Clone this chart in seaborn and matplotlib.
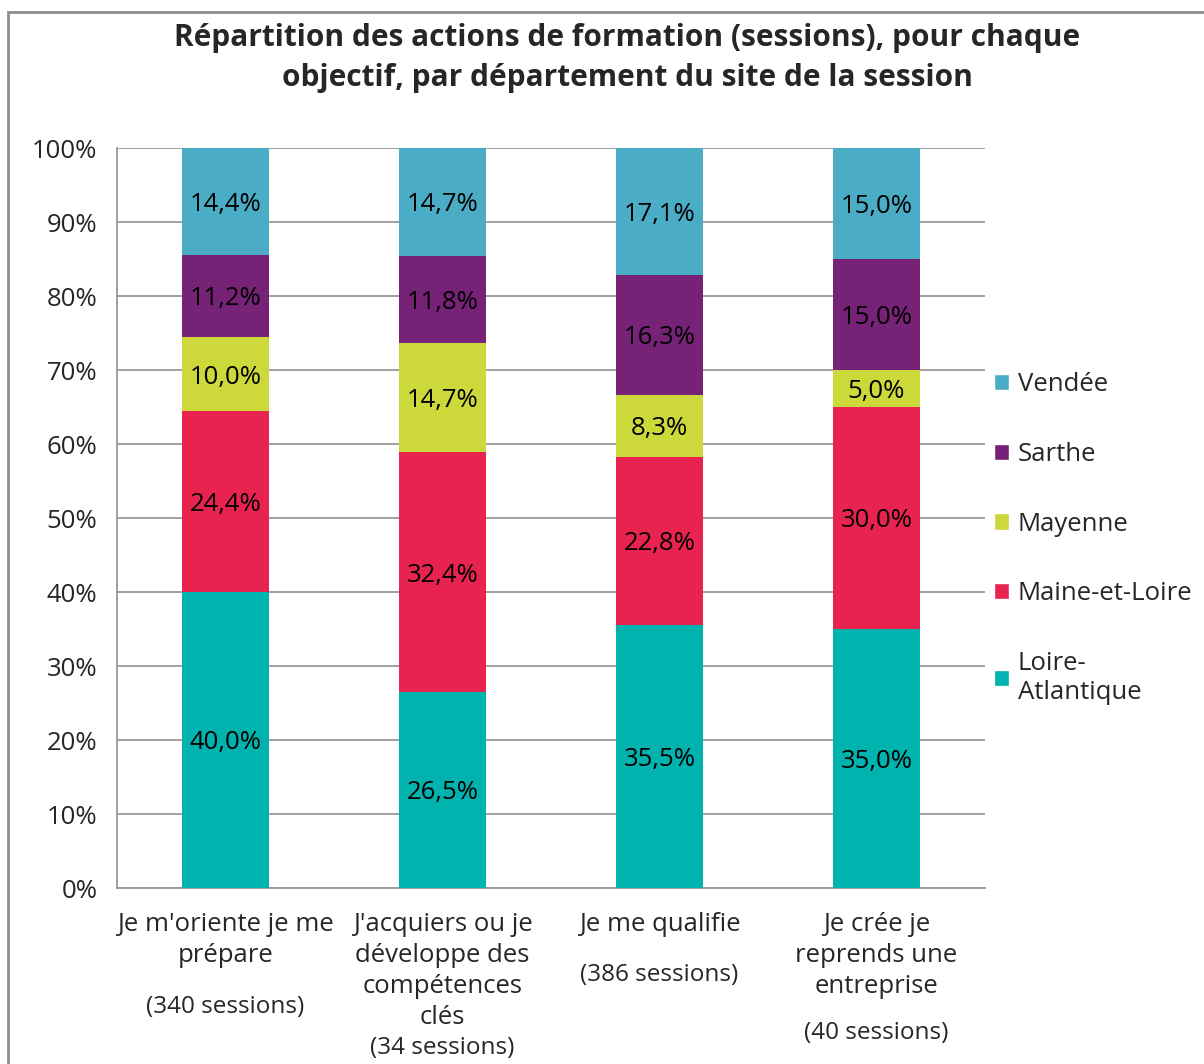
import matplotlib
matplotlib.use('Agg')
import matplotlib.pyplot as plt
from matplotlib.patches import Rectangle, Patch
import matplotlib.transforms as mtransforms
import seaborn as sns
import numpy as np

# categories (objectives) and session counts
objectifs = ["Je m'oriente je me\nprépare",
             "J'acquiers ou je\ndéveloppe des\ncompétences\nclés",
             "Je me qualifie",
             "Je crée je\nreprends une\nentreprise"]
sessions = ["(340 sessions)", "(34 sessions)", "(386 sessions)", "(40 sessions)"]

# share per department (%), bottom to top
loire_atlantique = [40.0, 26.5, 35.5, 35.0]
maine_et_loire = [24.4, 32.4, 22.8, 30.0]
mayenne = [10.0, 14.7, 8.3, 5.0]
sarthe = [11.2, 11.8, 16.3, 15.0]
vendee = [14.4, 14.7, 17.1, 15.0]

departements = ["Loire-\nAtlantique", "Maine-et-Loire", "Mayenne", "Sarthe", "Vendée"]
series = [loire_atlantique, maine_et_loire, mayenne, sarthe, vendee]
couleurs = ["#00B3AE", "#E8234F", "#CDD83A", "#762277", "#4BACC6"]

sns.set_style("white")
plt.rcParams['font.family'] = ['Open Sans', 'DejaVu Sans']

fig = plt.figure(figsize=(12.04, 10.64), dpi=100)
ax = fig.add_axes([117/1204, 1-888/1064, (985-117)/1204, (888-148)/1064])

# outer frame of the chart area
fig.patches.append(Rectangle((8/1204, -0.05), 1.2, 1-12/1064+0.05,
                             transform=fig.transFigure, fill=False,
                             edgecolor='#8c8c8c', linewidth=2, zorder=0))

x = np.arange(len(objectifs))
cumul = np.zeros(len(objectifs))
for vals, col in zip(series, couleurs):
    vals = np.array(vals)
    sns.barplot(x=x, y=vals, bottom=cumul, color=col, width=0.4,
                saturation=1, ax=ax, zorder=3, native_scale=True,
                linewidth=0, edgecolor='none')
    for xi, v, b in zip(x, vals, cumul):
        ax.text(xi, b + v/2, f"{v:.1f}%".replace('.', ','),
                ha='center', va='center_baseline', fontsize=18.5,
                color='black', zorder=4)
    cumul += vals

ax.set_xlim(-0.5, len(objectifs) - 0.5)
ax.set_ylim(0, 100)
ax.set_yticks(np.arange(0, 101, 10))
ax.set_yticklabels([f"{t}%" for t in range(0, 101, 10)], fontsize=18.5)
ax.yaxis.grid(True, color='#999999', linewidth=1.3, zorder=0)
ax.set_axisbelow(True)

# category labels centred, tick marks on the boundaries
ax.set_xticks(x)
ax.set_xticklabels(objectifs, fontsize=18.5, linespacing=1.32, va='top')
ax.set_xticks(np.arange(-0.5, len(objectifs)), minor=True)
ax.tick_params(axis='x', which='major', length=0, pad=17)
ax.tick_params(axis='x', which='minor', length=9, color='#999999', width=1.3)
ax.tick_params(axis='y', length=8, color='#999999', width=1.3, pad=6)
ax.set_xlabel("")
ax.set_ylabel("")

for side in ['top', 'right']:
    ax.spines[side].set_visible(False)
for side in ['left', 'bottom']:
    ax.spines[side].set_color('#999999')
    ax.spines[side].set_linewidth(1.3)

# session counts below the labels
trans = mtransforms.blended_transform_factory(ax.transData, fig.transFigure)
sess_y = [1007, 1048, 975, 1033]
for xi, s, yy in zip(x, sessions, sess_y):
    ax.text(xi, 1 - yy/1064, s, transform=trans, ha='center', va='center',
            fontsize=17.5)

# legend, top entry = top segment
handles = [Patch(facecolor=c, label=d) for d, c in zip(departements, couleurs)][::-1]
ax.legend(handles=handles, loc='upper left', bbox_to_anchor=(0.998, 0.711),
          frameon=False, fontsize=18.5, handlelength=0.6, handleheight=0.6,
          handletextpad=0.35, labelspacing=1.74, borderaxespad=0)

fig.text(627/1204, 1-58/1064,
         "Répartition des actions de formation (sessions), pour chaque\n"
         "objectif, par département du site de la session",
         ha='center', va='center', fontsize=21.5, fontweight='bold',
         linespacing=1.42)

fig.savefig("out.png", dpi=100)
